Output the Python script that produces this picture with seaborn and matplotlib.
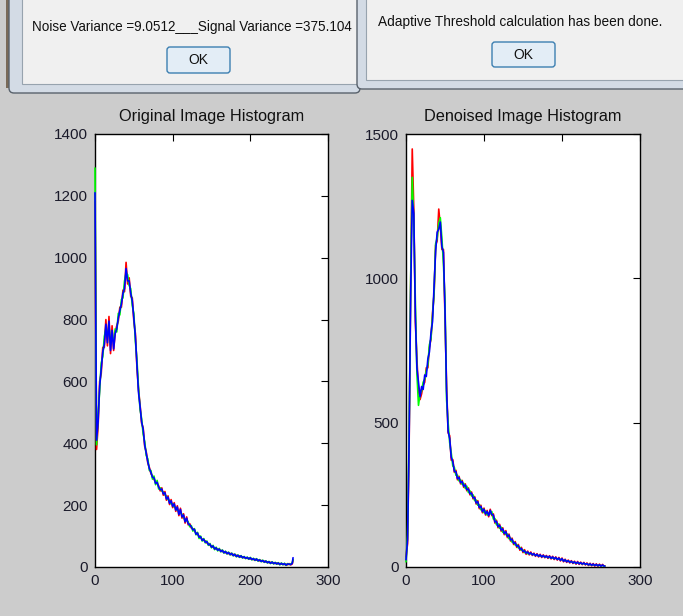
import numpy as np
import pandas as pd
import matplotlib
matplotlib.use("Agg")
import matplotlib.pyplot as plt
from matplotlib.patches import FancyBboxPatch, Rectangle
from matplotlib import font_manager
import seaborn as sns

# ---------------- data ----------------
levels = list(range(0, 256, 2)) + [255]

orig_blue = [
    1210, 410, 470, 585, 640, 695, 720, 785, 725, 795, 700, 765, 705, 755, 770, 805,
    830, 850, 885, 900, 965, 925, 925, 885, 860, 805, 745, 655, 565, 520, 470, 445,
    395, 368, 340, 318, 306, 290, 288, 270, 274, 258, 250, 252, 236, 240, 220, 226,
    206, 214, 196, 204, 184, 194, 170, 186, 162, 168, 146, 158, 140, 136, 130, 120,
    122, 106, 110, 96, 98, 86, 90, 80, 82, 72, 74, 64, 68, 58, 62, 54,
    58, 50, 54, 46, 50, 43, 47, 40, 44, 37, 41, 34, 38, 32, 36, 30,
    33, 28, 31, 26, 30, 24, 27, 22, 26, 20, 23, 18, 21, 16, 19, 14,
    17, 12, 16, 11, 14, 10, 13, 8, 12, 8, 11, 6, 10, 9, 8, 12,
    30]
orig_green = [
    1290, 395, 490, 570, 660, 680, 745, 770, 745, 780, 720, 745, 730, 770, 760, 820,
    815, 865, 870, 925, 950, 945, 910, 900, 845, 820, 730, 670, 580, 510, 480, 430,
    405, 360, 350, 312, 312, 284, 294, 266, 280, 252, 256, 246, 242, 234, 228, 218,
    214, 204, 204, 194, 192, 184, 180, 176, 170, 160, 152, 150, 146, 130, 134, 116,
    124, 104, 112, 92, 100, 84, 92, 78, 84, 70, 76, 62, 70, 56, 64, 52,
    60, 49, 55, 45, 51, 42, 48, 39, 45, 36, 42, 33, 39, 31, 37, 29,
    34, 27, 32, 25, 31, 23, 28, 21, 27, 19, 24, 17, 22, 15, 20, 13,
    18, 11, 17, 10, 15, 9, 14, 7, 13, 7, 12, 5, 11, 8, 9, 14,
    24]
orig_red = [
    1180, 380, 455, 600, 625, 710, 710, 800, 715, 810, 690, 780, 700, 760, 780, 795,
    840, 840, 895, 890, 985, 915, 935, 875, 870, 795, 755, 645, 575, 525, 465, 450,
    390, 372, 336, 322, 302, 294, 284, 274, 270, 262, 246, 256, 232, 244, 216, 230,
    202, 218, 192, 208, 180, 198, 166, 190, 158, 172, 142, 162, 136, 140, 126, 124,
    118, 110, 106, 100, 94, 90, 86, 84, 78, 76, 70, 68, 64, 62, 58, 58,
    54, 54, 50, 50, 46, 47, 43, 44, 40, 41, 37, 38, 34, 36, 32, 33,
    30, 30, 28, 28, 26, 27, 24, 25, 22, 23, 20, 21, 18, 19, 16, 17,
    14, 15, 13, 14, 11, 13, 10, 11, 9, 10, 8, 9, 7, 11, 7, 10,
    22]

den_blue = [
    25, 95, 440, 950, 1270, 1225, 870, 690, 640, 590, 625, 615, 665, 660, 720, 745,
    810, 850, 975, 1095, 1160, 1170, 1195, 1110, 1090, 890, 610, 470, 445, 380, 365, 332,
    330, 306, 310, 292, 296, 280, 284, 268, 270, 254, 256, 240, 240, 222, 226, 206,
    210, 192, 200, 184, 192, 178, 196, 182, 180, 156, 158, 140, 144, 128, 132, 116,
    122, 106, 110, 94, 96, 82, 84, 72, 74, 62, 64, 54, 56, 48, 52, 45,
    49, 42, 46, 39, 44, 37, 42, 35, 40, 34, 38, 32, 37, 30, 35, 28,
    33, 26, 31, 23, 29, 20, 25, 18, 22, 16, 20, 14, 18, 12, 17, 11,
    15, 10, 14, 9, 12, 7, 11, 6, 10, 5, 9, 4, 8, 3, 7, 3,
    3]
den_green = [
    18, 110, 470, 1000, 1350, 1190, 920, 670, 560, 600, 610, 640, 650, 680, 700, 770,
    790, 870, 950, 1120, 1140, 1190, 1210, 1140, 1050, 920, 580, 500, 430, 395, 350, 345,
    318, 318, 298, 302, 286, 290, 272, 280, 258, 264, 246, 250, 230, 232, 214, 216,
    198, 202, 188, 194, 180, 186, 184, 192, 166, 168, 146, 150, 134, 138, 120, 124,
    112, 114, 98, 100, 86, 88, 76, 78, 66, 68, 58, 59, 50, 52, 46, 47,
    46, 44, 43, 41, 41, 39, 39, 37, 37, 36, 35, 34, 33, 32, 31, 30,
    30, 28, 28, 26, 26, 22, 23, 20, 20, 18, 18, 16, 15, 14, 14, 13,
    13, 11, 12, 10, 10, 8, 9, 7, 8, 6, 7, 5, 6, 4, 5, 3,
    3]
den_red = [
    35, 80, 420, 980, 1448, 1240, 850, 720, 610, 580, 600, 630, 640, 690, 690, 760,
    790, 880, 945, 1115, 1130, 1240, 1180, 1100, 1100, 870, 630, 465, 455, 370, 372, 328,
    335, 302, 314, 288, 300, 276, 288, 264, 274, 250, 260, 236, 244, 218, 230, 202,
    214, 188, 204, 180, 196, 174, 200, 178, 184, 152, 162, 136, 148, 124, 136, 112,
    126, 102, 114, 90, 100, 78, 88, 68, 78, 58, 68, 50, 60, 44, 55, 42,
    52, 40, 48, 37, 46, 35, 44, 33, 42, 32, 40, 30, 39, 28, 37, 26,
    35, 24, 33, 21, 31, 18, 27, 16, 24, 14, 22, 12, 20, 10, 19, 9,
    17, 8, 16, 7, 14, 5, 13, 4, 12, 3, 11, 2, 10, 2, 9, 2,
    4]

titles = ["Original Image Histogram", "Denoised Image Histogram"]
x_ticks = [0, 100, 200, 300]
y_ticks_orig = [0, 200, 400, 600, 800, 1000, 1200, 1400]
y_ticks_den = [0, 500, 1000, 1500]
msg_left = "Noise Variance =9.0512___Signal Variance =375.104"
msg_right = "Adaptive Threshold calculation has been done."
button_text = "OK"

# ---------------- style ----------------
sns.set_style("white")
plt.rcParams["font.family"] = ["Liberation Sans", "DejaVu Sans"]

W, H, DPI = 683, 616, 100
fig = plt.figure(figsize=(W / DPI, H / DPI), dpi=DPI, facecolor="#cccccc")

bg = fig.add_axes([0, 0, 1, 1], zorder=0)
bg.set_xlim(0, W)
bg.set_ylim(H, 0)
bg.axis("off")
bg.patch.set_alpha(0)

names = {f.name for f in font_manager.fontManager.ttflist}
narrow = "Liberation Sans Narrow" if "Liberation Sans Narrow" in names else "Liberation Sans"

def dialog(x0, x1, ybot_frame, inner_x0, ybot_inner, text, tx, ty, bx, by, bw, bh, text_w):
    frame = FancyBboxPatch((x0, -20), x1 - x0, ybot_frame + 20,
                           boxstyle="round,pad=0,rounding_size=5",
                           facecolor="#d3dbe5", edgecolor="#59626c", lw=1.0)
    bg.add_patch(frame)
    inner = Rectangle((inner_x0, -20), x1 - inner_x0, ybot_inner + 20,
                      facecolor="#f0f0f0", edgecolor="#97a3ae", lw=0.8)
    bg.add_patch(inner)
    t = bg.text(tx, ty, text, ha="left", va="center", fontsize=9.5,
                family=narrow, color="#111111")
    fig.canvas.draw()
    r = fig.canvas.get_renderer()
    ext = t.get_window_extent(renderer=r)
    t.set_fontsize(9.5 * text_w / ext.width)
    btn = FancyBboxPatch((bx, by), bw, bh, boxstyle="round,pad=0,rounding_size=3",
                         facecolor="#e3edf6", edgecolor="#3c7fb1", lw=1.0)
    bg.add_patch(btn)
    bg.text(bx + bw / 2, by + bh / 2 + 0.5, button_text, ha="center", va="center",
            fontsize=10, family=narrow, color="#111111")

bg.add_patch(Rectangle((6, 0), 4, 88, facecolor="#7a6a58", edgecolor="none"))
dialog(9, 360, 93, 22, 84, msg_left, 32, 27, 167, 47, 63, 26, 321)
dialog(357, 700, 89, 366, 80, msg_right, 378, 22, 492, 42, 63, 25, 282)

# ---------------- histograms ----------------
palette = {"R": "#ff0000", "G": "#00ff00", "B": "#0000ff"}

def make_df(r, g, b):
    assert len(r) == len(g) == len(b) == len(levels)
    frames = []
    for ch, vals in (("R", r), ("G", g), ("B", b)):
        frames.append(pd.DataFrame({"level": levels, "count": vals, "channel": ch}))
    return pd.concat(frames, ignore_index=True)

axes_px = [(95, 328), (406, 640)]
top_px, bot_px = 134, 567
datasets = [
    (make_df(orig_red, orig_green, orig_blue), (0, 1400), y_ticks_orig),
    (make_df(den_red, den_green, den_blue), (0, 1500), y_ticks_den),
]

for (xl, xr), (df, ylim, yt), title in zip(axes_px, datasets, titles):
    ax = fig.add_axes([xl / W, (H - bot_px) / H, (xr - xl) / W, (bot_px - top_px) / H], zorder=2)
    sns.lineplot(data=df, x="level", y="count", hue="channel",
                 hue_order=["R", "G", "B"], palette=palette, legend=False,
                 estimator=None, lw=1.2, ax=ax)
    for ln in ax.lines:
        ln.set_zorder(3)
        ln.set_clip_on(False)
    ax.set_xlim(0, 300)
    ax.set_ylim(*ylim)
    ax.set_xticks(x_ticks)
    ax.set_yticks(yt)
    ax.set_xlabel("")
    ax.set_ylabel("")
    ax.set_facecolor("white")
    for s in ax.spines.values():
        s.set_visible(True)
        s.set_color("black")
        s.set_linewidth(1.0)
        s.set_zorder(2.5)
    ax.tick_params(direction="in", length=5, width=0.8, top=True, right=True,
                   labelsize=11, colors="black", labelcolor="#1a1a2a", pad=5)
    ax.set_title(title, fontsize=11.7, color="#111111", pad=9)

fig.savefig("out.png", dpi=DPI, facecolor=fig.get_facecolor())
